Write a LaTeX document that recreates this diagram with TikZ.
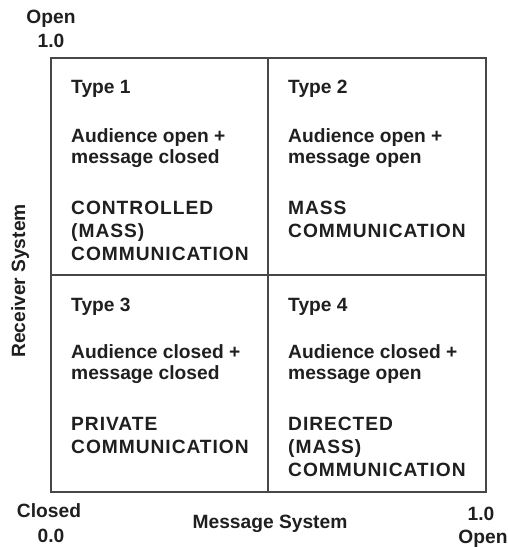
\documentclass[tikz,border=0pt]{standalone}
\usepackage{fontspec}
\setmainfont{Liberation Sans}
\begin{document}
\begin{tikzpicture}[x=1pt,y=-1pt,
  txt/.style={inner sep=0pt, anchor=base west, text=black!88, font=\fontsize{19.2}{22}\selectfont\bfseries},
  caps/.style={txt, font=\fontsize{19.2}{22}\selectfont\bfseries\addfontfeature{LetterSpace=5}},
  lab/.style={inner sep=0pt, anchor=base, text=black!88, font=\fontsize{19.2}{22}\selectfont\bfseries},
  grid/.style={draw=black!72, line width=2pt}]
\useasboundingbox (0,0) rectangle (508,547);
% frame and dividers
\draw[grid] (51,58) rectangle (486,492);
\draw[grid] (268,58) -- (268,492);
\draw[grid] (51,275) -- (486,275);
% axis labels
\node[lab] (open1) at (51,23) {Open};
\node[lab] (one1) at (51,47) {1.0};
\node[lab] (closed) at (49,517) {Closed};
\node[lab] (zero) at (51,542) {0.0};
\node[lab] (msg) at (270,528) {Message System};
\node[lab] (one2) at (481,520) {1.0};
\node[lab] (open2) at (483,543) {Open};
\node[lab, rotate=90] (recv) at (25,281) {Receiver System};
% cell 1
\node[txt] (t1) at (71,93) {Type 1};
\node[txt] (t1a) at (71,142) {Audience open +};
\node[txt] (t1b) at (71,163) {message closed};
\node[caps] (t1c) at (71,214) {CONTROLLED};
\node[caps] (t1d) at (71,237) {(MASS)};
\node[caps] (t1e) at (71,260) {COMMUNICATION};
% cell 2
\node[txt] (t2) at (288,93) {Type 2};
\node[txt] (t2a) at (288,142) {Audience open +};
\node[txt] (t2b) at (288,163) {message open};
\node[caps] (t2c) at (288,214) {MASS};
\node[caps] (t2d) at (288,237) {COMMUNICATION};
% cell 3
\node[txt] (t3) at (71,311) {Type 3};
\node[txt] (t3a) at (71,358) {Audience closed +};
\node[txt] (t3b) at (71,379) {message closed};
\node[caps] (t3c) at (71,430) {PRIVATE};
\node[caps] (t3d) at (71,453) {COMMUNICATION};
% cell 4
\node[txt] (t4) at (288,311) {Type 4};
\node[txt] (t4a) at (288,358) {Audience closed +};
\node[txt] (t4b) at (288,379) {message open};
\node[caps] (t4c) at (288,430) {DIRECTED};
\node[caps] (t4d) at (288,453) {(MASS)};
\node[caps] (t4e) at (288,476) {COMMUNICATION};
\end{tikzpicture}
\end{document}
